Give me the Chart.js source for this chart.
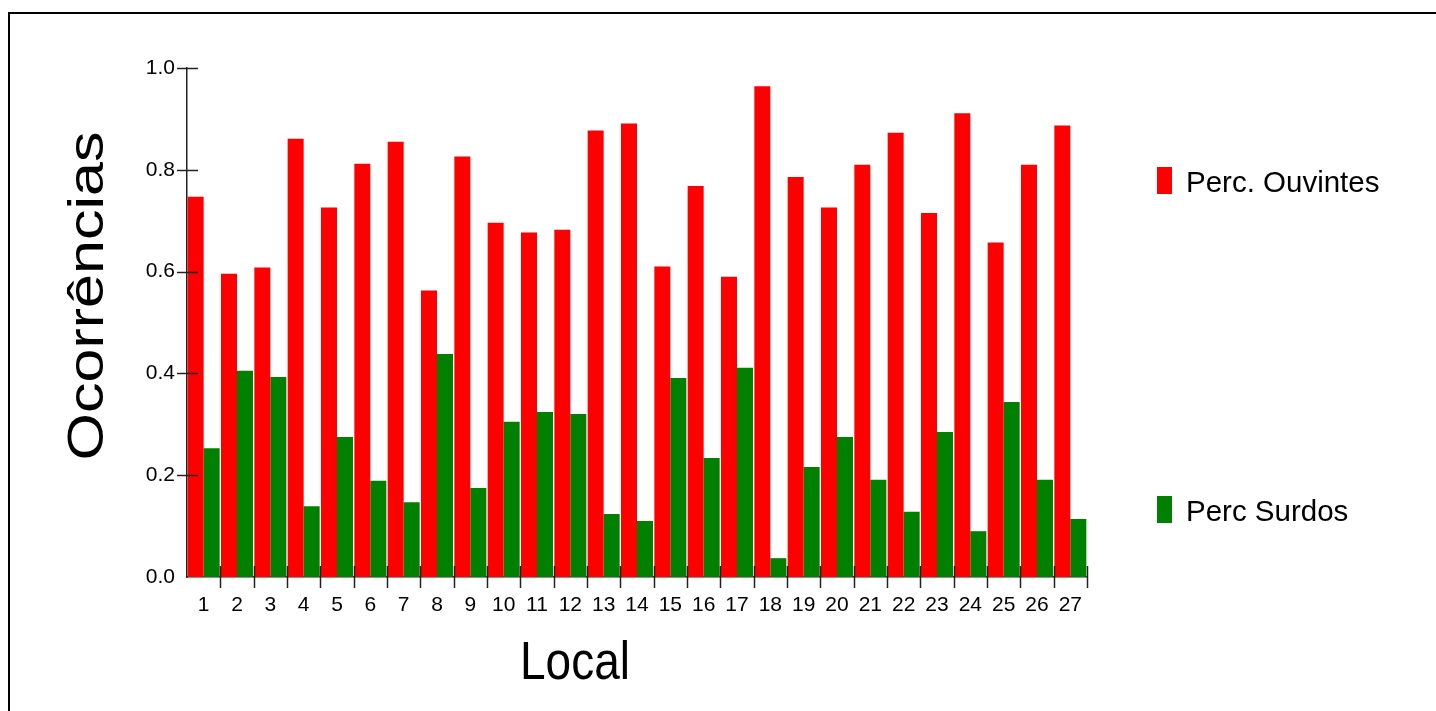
<!DOCTYPE html>
<html>
<head>
<meta charset="utf-8">
<script src="https://cdn.jsdelivr.net/npm/chart.js@4/dist/chart.umd.min.js"></script>
<style>
  html, body { margin: 0; padding: 0; background: #fff; }
  #wrap { width: 1436px; height: 711px; position: relative; }
</style>
</head>
<body>
<div id="wrap"><canvas id="chart" width="1436" height="711"></canvas></div>
<script>
// Percentual de ocorrências por local
const locais = ['1','2','3','4','5','6','7','8','9','10','11','12','13','14','15','16','17','18','19','20','21','22','23','24','25','26','27'];
const percOuvintes = [0.747, 0.596, 0.608, 0.861, 0.726, 0.812, 0.855, 0.563, 0.826, 0.696, 0.677, 0.682, 0.877, 0.891, 0.610, 0.768, 0.590, 0.964, 0.786, 0.726, 0.810, 0.873, 0.715, 0.911, 0.657, 0.810, 0.887];
const percSurdos = [0.253, 0.405, 0.393, 0.139, 0.275, 0.189, 0.147, 0.438, 0.175, 0.305, 0.324, 0.320, 0.124, 0.110, 0.391, 0.234, 0.411, 0.037, 0.216, 0.275, 0.191, 0.128, 0.285, 0.090, 0.344, 0.191, 0.114];
const yTicks = [0.0, 0.2, 0.4, 0.6, 0.8, 1.0];

const FONT = '"Liberation Sans", Arial, sans-serif';

// frame, crossing tick marks, axis titles and legend
const extras = {
  id: 'extras',
  beforeDraw(chart) {
    const c = chart.ctx;
    c.save();
    c.strokeStyle = '#000';
    c.lineWidth = 2;
    c.beginPath();
    c.moveTo(9, 711);
    c.lineTo(9, 13);
    c.lineTo(1436, 13);
    c.stroke();
    c.restore();
  },
  afterDraw(chart) {
    const c = chart.ctx;
    const x = chart.scales.x, y = chart.scales.y;
    const area = chart.chartArea;
    c.save();
    c.strokeStyle = '#222';
    c.lineWidth = 1.5;
    // y ticks
    yTicks.forEach(v => {
      if (v === 0) return;
      const py = Math.round(y.getPixelForValue(v)) + 0.5;
      c.beginPath();
      c.moveTo(area.left - 10, py);
      c.lineTo(area.left + 11, py);
      c.stroke();
    });
    // x ticks at group borders
    for (let i = 1; i <= locais.length; i++) {
      const px = Math.round(x.getPixelForValue(i - 0.5)) + 0.5;
      c.beginPath();
      c.moveTo(px, area.bottom - 11);
      c.lineTo(px, area.bottom + 11);
      c.stroke();
    }
    // axis titles
    c.fillStyle = '#000';
    c.textAlign = 'center';
    c.textBaseline = 'middle';
    c.save();
    c.translate(575, 664);
    c.scale(1, 1.15);
    c.font = '46px ' + FONT;
    c.fillText('Local', 0, 0);
    c.restore();
    c.save();
    c.translate(89, 296);
    c.rotate(-Math.PI / 2);
    c.scale(1.22, 1);
    c.font = '50px ' + FONT;
    c.fillText('Ocorrências', 0, 0);
    c.restore();
    // legend
    const items = [[180, 0], [509, 1]];
    c.textAlign = 'left';
    c.font = '29.5px ' + FONT;
    items.forEach(([cy, idx]) => {
      const ds = chart.data.datasets[idx];
      c.fillStyle = ds.backgroundColor;
      c.fillRect(1157, cy - 13, 15, 27);
      c.fillStyle = '#000';
      c.fillText(ds.label, 1186, cy + 4);
    });
    c.restore();
  }
};

new Chart(document.getElementById('chart'), {
  type: 'bar',
  data: {
    labels: locais,
    datasets: [
      { label: 'Perc. Ouvintes', data: percOuvintes, backgroundColor: '#ff0000' },
      { label: 'Perc Surdos', data: percSurdos, backgroundColor: '#008000' }
    ]
  },
  options: {
    responsive: false,
    animation: false,
    events: [],
    layout: { padding: { left: 0, right: 349, top: 68, bottom: 0 } },
    datasets: { bar: { barPercentage: 1.0, categoryPercentage: 0.96 } },
    plugins: { legend: { display: false }, tooltip: { enabled: false } },
    scales: {
      x: {
        grid: { display: false, drawTicks: false },
        border: { display: true, color: '#222', width: 1.5 },
        ticks: { color: '#000', font: { family: FONT, size: 21 }, padding: 16, maxRotation: 0, autoSkip: false },
        afterFit(s) { s.height = 134; }
      },
      y: {
        min: 0,
        max: 1,
        grid: { display: false, drawTicks: false },
        border: { display: true, color: '#222', width: 1.5 },
        afterBuildTicks(s) { s.ticks = yTicks.map(v => ({ value: v })); },
        ticks: { color: '#000', font: { family: FONT, size: 21 }, padding: 12, callback: v => v.toFixed(1) },
        afterFit(s) { s.width = 187; }
      }
    }
  },
  plugins: [extras]
});
</script>
</body>
</html>
